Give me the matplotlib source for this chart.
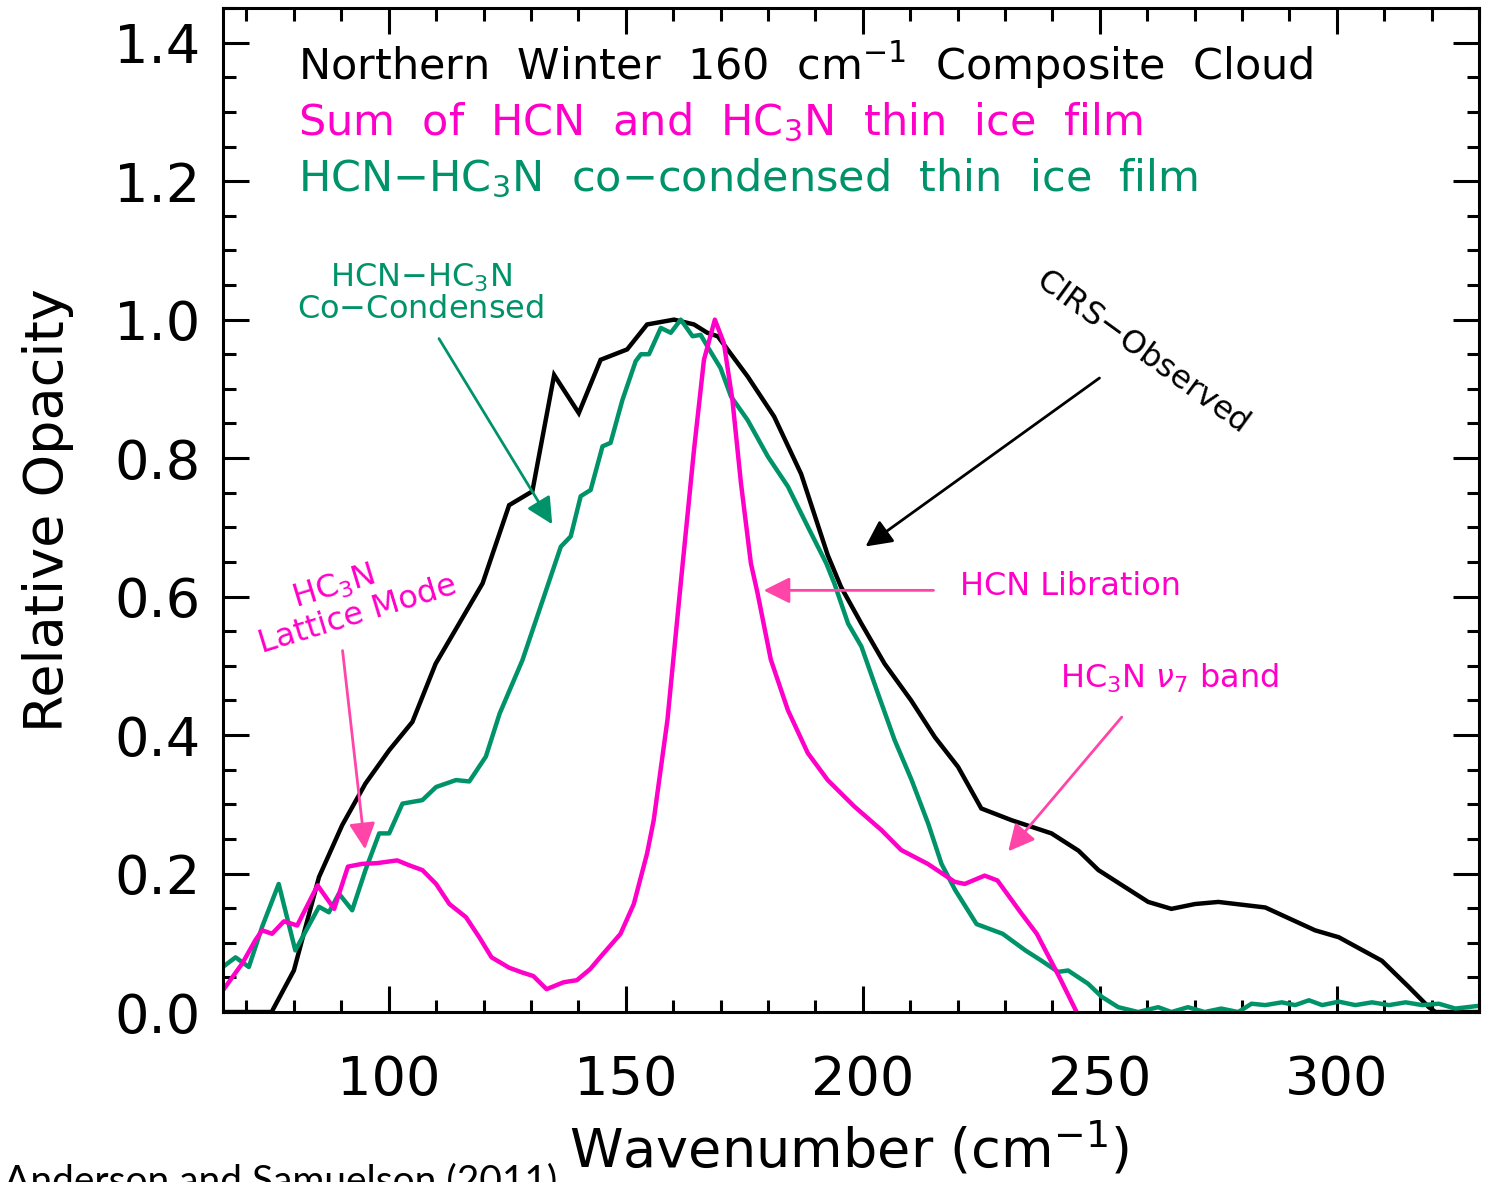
import numpy as np
import matplotlib
matplotlib.use('Agg')
import matplotlib.pyplot as plt
from matplotlib.ticker import MultipleLocator

# CIRS observed composite cloud, 160 cm-1 (northern winter)
wn_obs = [65, 75.3, 80, 85.3, 90.2, 95.1, 100.1, 105, 109.9, 119.8, 125.4, 130.3,
          134.9, 140.1, 144.7, 150.3, 154.5, 160.2, 164.4, 167.2, 169.4, 175.7, 181.3,
          187.0, 192.6, 195.4, 199.7, 204.6, 210.2, 215.2, 220.1, 225.0, 231.4, 239.8,
          245.5, 249.7, 260.2, 265.1, 270.1, 275.0, 284.9, 295.4, 300.4, 309.5, 315.2,
          319.4, 320.8, 330.0]
op_obs = [0, 0, 0.06, 0.195, 0.27, 0.33, 0.378, 0.419, 0.503, 0.619, 0.732, 0.752,
          0.92, 0.865, 0.942, 0.957, 0.993, 1.0, 0.993, 0.981, 0.976, 0.918, 0.86,
          0.777, 0.66, 0.614, 0.561, 0.503, 0.45, 0.397, 0.354, 0.294, 0.277, 0.258,
          0.233, 0.205, 0.159, 0.149, 0.156, 0.159, 0.151, 0.118, 0.108, 0.074, 0.036,
          0.007, 0, 0]

# sum of separate HCN and HC3N thin ice film spectra
wn_sum = [65, 69.1, 71.9, 73.3, 75.4, 77.9, 80.7, 85.0, 88.5, 91.4, 94.4, 97.5,
          101.8, 104.3, 107.1, 110.0, 112.8, 116.3, 119.1, 121.7, 125.4, 128.2, 130.5,
          133.3, 136.9, 139.7, 142.5, 144.6, 148.9, 151.7, 154.5, 155.9, 158.8, 161.6,
          164.4, 166.5, 168.8, 170.7, 172.5, 174.3, 176.4, 177.8, 180.6, 184.2, 188.4,
          192.6, 198.2, 203.9, 208.1, 213.7, 219.4, 221.5, 225.7, 228.4, 233.5, 236.7,
          241.5, 245.1]
op_sum = [0.031, 0.07, 0.104, 0.118, 0.113, 0.131, 0.125, 0.183, 0.149, 0.21, 0.214,
          0.215, 0.219, 0.212, 0.205, 0.185, 0.156, 0.137, 0.108, 0.079, 0.064, 0.057,
          0.052, 0.033, 0.043, 0.046, 0.062, 0.079, 0.113, 0.156, 0.229, 0.277, 0.422,
          0.619, 0.812, 0.942, 1.0, 0.966, 0.884, 0.764, 0.648, 0.605, 0.509, 0.436,
          0.374, 0.335, 0.297, 0.263, 0.234, 0.214, 0.188, 0.185, 0.197, 0.19, 0.142,
          0.113, 0.05, 0.0]

# HCN-HC3N co-condensed thin ice film
wn_co = [65, 67.7, 70.5, 73.3, 76.8, 80.3, 85.3, 87.4, 89.5, 92.3, 95.1, 98.0, 100.1,
         102.9, 107.1, 110.0, 114.2, 117.0, 120.5, 123.4, 128.2, 132.5, 136.3, 138.4,
         140.5, 142.6, 145.1, 146.8, 149.3, 152.1, 153.2, 154.9, 157.4, 159.5, 161.6,
         164.1, 165.8, 167.6, 170.0, 172.2, 175.7, 180.0, 184.2, 188.4, 192.3, 194.0,
         196.9, 199.7, 203.2, 206.7, 210.3, 213.8, 216.6, 219.5, 224.0, 229.5, 234.3,
         237.5, 241.2, 243.3, 247.5, 250.4, 253.9, 258.1, 262.3, 265.1, 268.6, 272.1,
         275.6, 279.2, 282.0, 284.9, 288.4, 291.2, 294.1, 296.9, 300.4, 303.9, 307.4,
         311.0, 314.5, 318.0, 321.5, 325.0, 330.0]
op_co = [0.065, 0.079, 0.065, 0.123, 0.185, 0.089, 0.152, 0.144, 0.171, 0.147, 0.205,
         0.258, 0.258, 0.301, 0.306, 0.325, 0.335, 0.333, 0.369, 0.431, 0.508, 0.595,
         0.672, 0.687, 0.745, 0.754, 0.817, 0.822, 0.884, 0.94, 0.95, 0.95, 0.988,
         0.981, 1.0, 0.976, 0.978, 0.957, 0.93, 0.889, 0.855, 0.802, 0.759, 0.701,
         0.648, 0.619, 0.561, 0.528, 0.46, 0.393, 0.335, 0.272, 0.214, 0.176, 0.127,
         0.113, 0.089, 0.075, 0.058, 0.06, 0.041, 0.022, 0.007, 0.0, 0.007, 0.0, 0.007,
         0.0, 0.005, 0.0, 0.012, 0.01, 0.014, 0.01, 0.017, 0.01, 0.015, 0.01, 0.014,
         0.01, 0.014, 0.01, 0.012, 0.005, 0.009]

MAG = '#ff00c8'
PINK = '#ff45a8'
GRN = '#00936a'

plt.rcParams['font.family'] = ['DejaVu Sans']
plt.rcParams['mathtext.fontset'] = 'dejavusans'

fig = plt.figure(figsize=(14.93, 11.82), dpi=100)
ax = fig.add_axes([0.1492, 0.1438, 0.8415, 0.8494])

ax.plot(wn_obs, op_obs, color='black', lw=3.2, solid_joinstyle='miter')
ax.plot(wn_co, op_co, color=GRN, lw=3.2)
ax.plot(wn_sum, op_sum, color=MAG, lw=3.2)

ax.set_xlim(65, 330)
ax.set_ylim(0, 1.45)
ax.xaxis.set_major_locator(MultipleLocator(50))
ax.xaxis.set_minor_locator(MultipleLocator(10))
ax.yaxis.set_major_locator(MultipleLocator(0.2))
ax.yaxis.set_minor_locator(MultipleLocator(0.05))
ax.yaxis.set_major_formatter(lambda v, p: '%.1f' % v)
ax.tick_params(which='both', direction='in', top=True, right=True, width=2.2)
ax.tick_params(which='major', length=18.5, labelsize=39)
ax.tick_params(which='minor', length=9)
ax.tick_params(axis='x', which='major', pad=30)
ax.tick_params(axis='y', which='major', pad=16)
for s in ax.spines.values():
    s.set_linewidth(2.2)

ax.set_xlabel('Wavenumber (cm$^{-1}$)', fontsize=39, va='top')
ax.xaxis.set_label_coords(0.4985, -0.108)
ax.set_ylabel('Relative Opacity', fontsize=39, va='center')
ax.yaxis.set_label_coords(-0.139, 0.5)

# legend lines
ax.text(80.9, 1.347, 'Northern  Winter  160  cm$^{-1}$  Composite  Cloud', fontsize=31, color='black')
ax.text(80.9, 1.266, 'Sum  of  HCN  and  HC$_3$N  thin  ice  film', fontsize=31, color=MAG)
ax.text(80.9, 1.186, 'HCN$-$HC$_3$N  co$-$condensed  thin  ice  film', fontsize=31, color=GRN)

# labels and arrows
ax.text(106.7, 1.048, 'HCN$-$HC$_3$N', fontsize=23, color=GRN, ha='center')
ax.text(106.7, 1.003, 'Co$-$Condensed', fontsize=23, color=GRN, ha='center')
ax.annotate('', xy=(134.8, 0.701), xytext=(110.3, 0.976),
            arrowprops=dict(arrowstyle='-|>', color=GRN, lw=2, mutation_scale=40))

ax.text(258.8, 0.954, 'CIRS$-$Observed', fontsize=23, color='black', rotation=-36,
        ha='center', va='center', rotation_mode='anchor')
ax.annotate('', xy=(200.1, 0.670), xytext=(250.4, 0.918),
            arrowprops=dict(arrowstyle='-|>', color='black', lw=2, mutation_scale=40))

ax.text(88.5, 0.614, 'HC$_3$N', fontsize=23, color=MAG, rotation=17,
        ha='center', va='center', rotation_mode='anchor')
ax.text(93.4, 0.573, 'Lattice Mode', fontsize=23, color=MAG, rotation=17,
        ha='center', va='center', rotation_mode='anchor')
ax.annotate('', xy=(95.1, 0.231), xytext=(90.2, 0.526),
            arrowprops=dict(arrowstyle='-|>', color=PINK, lw=2, mutation_scale=40))

ax.text(220.4, 0.614, 'HCN Libration', fontsize=23, color=MAG, va='center')
ax.annotate('', xy=(178.5, 0.609), xytext=(215.5, 0.609),
            arrowprops=dict(arrowstyle='-|>', color=PINK, lw=2, mutation_scale=40))

ax.text(264.7, 0.482, r'HC$_3$N $\nu_7$ band', fontsize=23, color=MAG,
        ha='center', va='center')
ax.annotate('', xy=(230.3, 0.229), xytext=(255.0, 0.429),
            arrowprops=dict(arrowstyle='-|>', color=PINK, lw=2, mutation_scale=40))

# source line sits at the bottom edge of the figure
fig.text(0.003, 0.0161, 'Anderson and Samuelson (2011)', fontsize=28,
         family=['Lato', 'DejaVu Sans'], va='top', ha='left')

fig.savefig('out.png', dpi=100)
